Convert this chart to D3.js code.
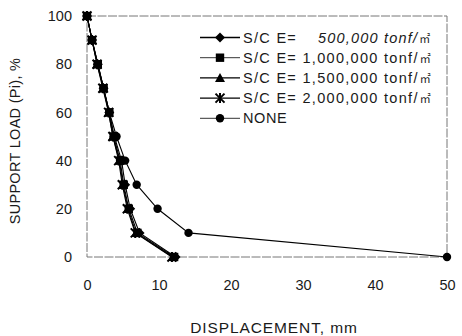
<!DOCTYPE html>
<html>
<head>
<meta charset="utf-8">
<script src="https://cdn.jsdelivr.net/npm/d3@7"></script>
<style>
  html, body { margin: 0; padding: 0; background: #fff; }
  svg { display: block; }
  text { font-family: "Liberation Sans", Arial, sans-serif; fill: #1a1a1a; }
</style>
</head>
<body>
<svg id="chart" width="462" height="336"></svg>
<script>
// Support load levels (%) at which displacement was computed
const loads = [100, 90, 80, 70, 60, 50, 40, 30, 20, 10, 0];

// Displacement (mm) for each shotcrete stiffness and for the unsupported case
const disp500k  = [0, 0.7, 1.5, 2.3, 3.1, 3.8, 4.8, 5.3, 6.0, 7.3, 12.3];
const disp1000k = [0, 0.7, 1.5, 2.3, 3.1, 3.7, 4.6, 5.1, 5.8, 7.0, 12.1];
const disp1500k = [0, 0.7, 1.4, 2.3, 3.0, 3.6, 4.5, 5.0, 5.7, 6.8, 11.9];
const disp2000k = [0, 0.7, 1.4, 2.2, 3.0, 3.6, 4.4, 4.9, 5.6, 6.7, 11.8];
const dispNone  = [0, 0.7, 1.5, 2.3, 3.1, 4.1, 5.3, 6.9, 9.8, 14.1, 50];

const seriesNames = [
  ["S/C E=", "500,000 tonf/", "㎡"],
  ["S/C E= 1,000,000 tonf/", "㎡"],
  ["S/C E= 1,500,000 tonf/", "㎡"],
  ["S/C E= 2,000,000 tonf/", "㎡"],
  ["NONE"]
];
const xTicks = [0, 10, 20, 30, 40, 50];
const yTicks = [0, 20, 40, 60, 80, 100];

const series = [
  { name: seriesNames[0], x: disp500k,  marker: "diamond" },
  { name: seriesNames[1], x: disp1000k, marker: "square" },
  { name: seriesNames[2], x: disp1500k, marker: "triangle" },
  { name: seriesNames[3], x: disp2000k, marker: "star" },
  { name: seriesNames[4], x: dispNone,  marker: "circle" }
];

const svg = d3.select("#chart");
const x = d3.scaleLinear().domain([0, 50]).range([87, 447]);
const y = d3.scaleLinear().domain([0, 100]).range([257, 16]);

// plot frame
svg.append("rect")
  .attr("x", x(0)).attr("y", y(100))
  .attr("width", x(50) - x(0)).attr("height", y(0) - y(100))
  .attr("fill", "none").attr("stroke", "#777").attr("stroke-width", 1)
  .attr("stroke-dasharray", "9,1.5");

// axes (labels only, no tick marks)
const yAxis = svg.append("g").attr("transform", `translate(${x(0)},0)`)
  .call(d3.axisLeft(y).tickValues(yTicks).tickSize(0).tickPadding(15));
const xAxis = svg.append("g").attr("transform", `translate(0,${y(0)})`)
  .call(d3.axisBottom(x).tickValues(xTicks).tickSize(0).tickPadding(23));
[yAxis, xAxis].forEach(g => {
  g.select(".domain").remove();
  g.selectAll("text").attr("font-size", 14.5)
    .attr("font-family", "Liberation Sans, Arial, sans-serif").attr("fill", "#1a1a1a");
});

// axis titles
svg.append("text")
  .attr("transform", "translate(20,141) rotate(-90)")
  .attr("text-anchor", "middle").attr("font-size", 14.5).attr("letter-spacing", 0.3)
  .text("SUPPORT LOAD (Pi), %");
svg.append("text")
  .attr("x", 274).attr("y", 333)
  .attr("text-anchor", "middle").attr("font-size", 15.5).attr("letter-spacing", 0.9)
  .text("DISPLACEMENT, mm");

function drawMarker(g, type, cx, cy) {
  const c = "#000";
  if (type === "circle") {
    g.append("circle").attr("cx", cx).attr("cy", cy).attr("r", 4.2).attr("fill", c);
  } else if (type === "square") {
    g.append("rect").attr("x", cx - 4.2).attr("y", cy - 4.2)
      .attr("width", 8.4).attr("height", 8.4).attr("fill", c);
  } else if (type === "diamond") {
    g.append("path").attr("d", `M${cx},${cy - 5}L${cx + 5},${cy}L${cx},${cy + 5}L${cx - 5},${cy}Z`).attr("fill", c);
  } else if (type === "triangle") {
    g.append("path").attr("d", `M${cx},${cy - 5}L${cx + 5},${cy + 4}L${cx - 5},${cy + 4}Z`).attr("fill", c);
  } else if (type === "star") {
    const s = 4.5;
    g.append("path")
      .attr("d", `M${cx - s},${cy - s}L${cx + s},${cy + s}M${cx + s},${cy - s}L${cx - s},${cy + s}M${cx},${cy - s - 0.5}L${cx},${cy + s + 0.5}`)
      .attr("stroke", c).attr("stroke-width", 2).attr("fill", "none");
  }
}

const line = d3.line().x(d => x(d[0])).y(d => y(d[1]));

// draw order: unsupported case underneath, squares on top
const order = [4, 3, 2, 0, 1];
order.forEach(i => {
  const s = series[i];
  const pts = s.x.map((v, k) => [v, loads[k]]);
  const g = svg.append("g");
  g.append("path").attr("d", line(pts))
    .attr("fill", "none").attr("stroke", "#000").attr("stroke-width", 1.1);
  pts.forEach(p => drawMarker(g, s.marker, x(p[0]), y(p[1])));
});

// legend
series.forEach((s, i) => {
  const g = svg.append("g");
  const ly = 37.5 + i * 20.2;
  g.append("line").attr("x1", 200).attr("x2", 240).attr("y1", ly).attr("y2", ly)
    .attr("stroke", "#000").attr("stroke-width", (i === 1 || i === 4) ? 0.8 : 1.3);
  drawMarker(g, s.marker, 220, ly);
  const t = g.append("text").attr("x", 243).attr("y", ly + 5).attr("font-size", 14.5);
  const unit = n => t.append("tspan").attr("font-size", 11).attr("dx", 1)
    .attr("font-family", "Noto Sans CJK KR, sans-serif").text(n);
  if (s.name.length === 1) {
    t.append("tspan").attr("letter-spacing", 0.6).text(s.name[0]);
  } else if (s.name.length === 2) {
    t.append("tspan").attr("letter-spacing", 1.3).text(s.name[0]);
    unit(s.name[1]);
  } else {
    t.append("tspan").attr("letter-spacing", 1.3).text(s.name[0]);
    t.append("tspan").attr("x", 318).attr("font-style", "italic")
      .attr("letter-spacing", 1.2).text(s.name[1]);
    unit(s.name[2]);
  }
});
</script>
</body>
</html>
